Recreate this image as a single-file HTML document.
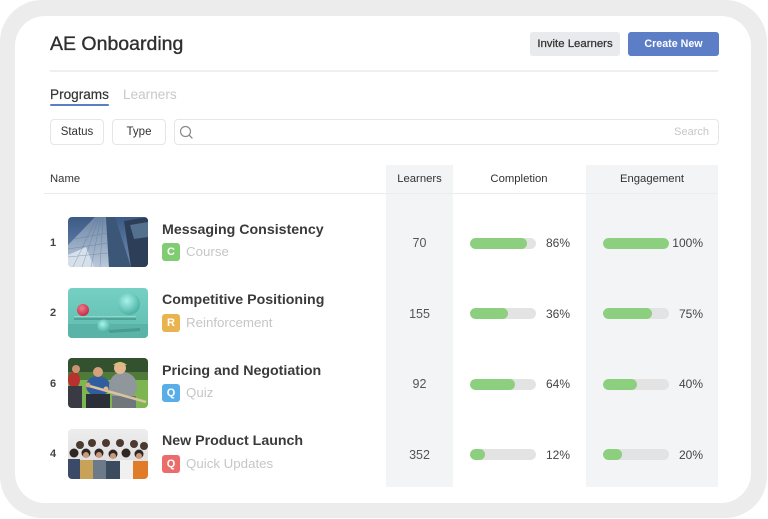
<!DOCTYPE html>
<html><head><meta charset="utf-8">
<style>
*{margin:0;padding:0;box-sizing:border-box}
html,body{width:768px;height:519px;background:#fff;overflow:hidden}
body{font-family:"Liberation Sans",Arial,sans-serif;color:#333;position:relative}
.a{position:absolute}
.t{position:absolute;white-space:nowrap}
.outer{left:0;top:0;width:767px;height:518px;background:#ececec;border-radius:42px}
.inner{left:15px;top:16px;width:736px;height:487px;background:#fff;border-radius:30px}
.btn{position:absolute;border-radius:3px;display:flex;align-items:center;justify-content:center;white-space:nowrap}
.fbtn{position:absolute;border:1px solid #e6e6e6;border-radius:4px;display:flex;align-items:center;justify-content:center;font-size:11.5px;color:#333;height:26px;top:119px}
.shade{position:absolute;background:#f3f4f6;top:165px;height:322px}
.hd{position:absolute;top:171px;height:16px;line-height:16px;font-size:11.3px;color:#333;text-align:center}
.num{position:absolute;left:48px;width:10px;text-align:center;font-size:11px;color:#444;font-weight:bold;height:14px;line-height:14px}
.thumb{position:absolute;left:68px;width:80px;height:50px;border-radius:4px;overflow:hidden}
.title{position:absolute;left:162px;font-size:14.2px;font-weight:bold;color:#3a3a3a;height:18px;line-height:18px;white-space:nowrap}
.badge{position:absolute;left:162px;width:18px;height:18px;border-radius:3px;color:#fff;font-weight:bold;font-size:11px;line-height:18px;text-align:center}
.type{position:absolute;left:186px;font-size:13.3px;color:#c6c6c6;height:18px;line-height:18px;white-space:nowrap}
.cnt{position:absolute;left:386px;width:67px;text-align:center;font-size:12.5px;color:#555;height:16px;line-height:16px}
.bar{position:absolute;width:66px;height:11px;border-radius:6px;background:#e3e3e3;overflow:hidden}
.bar i{display:block;height:11px;border-radius:6px;background:#8ccf7e}
.pct{position:absolute;font-size:12px;color:#444;height:16px;line-height:16px;text-align:right;width:40px}
</style></head><body>
<div class="a outer"></div>
<div class="a inner"></div>

<div class="t" style="left:50px;top:33px;height:23px;line-height:23px;font-size:19.5px;color:#2f2f2f;-webkit-text-stroke:0.35px #2f2f2f">AE Onboarding</div>

<div class="btn" style="left:530px;top:32px;width:90px;height:24px;background:#e9eaed;font-size:11.4px;color:#333;-webkit-text-stroke:0.25px #333">Invite Learners</div>
<div class="btn" style="left:628px;top:32px;width:91px;height:24px;background:#5b7ec6;font-size:10.7px;color:#fff;font-weight:bold">Create New</div>

<div class="a" style="left:50px;top:70px;width:668px;height:2px;background:#efefef"></div>

<div class="t" style="left:50px;top:87px;height:16px;line-height:16px;font-size:13.6px;color:#333;-webkit-text-stroke:0.2px #333">Programs</div>
<div class="a" style="left:50px;top:104px;width:59px;height:2px;background:#5b7ec6;border-radius:1px"></div>
<div class="t" style="left:123px;top:87px;height:16px;line-height:16px;font-size:13.6px;color:#c8c8c8">Learners</div>

<div class="fbtn" style="left:50px;width:54px">Status</div>
<div class="fbtn" style="left:112px;width:54px">Type</div>
<div class="fbtn" style="left:174px;width:545px;justify-content:flex-end;padding-right:9px;color:#c6c6c6;font-size:11px">Search</div>
<svg class="a" style="left:178px;top:124px" width="18" height="18" viewBox="0 0 18 18">
<circle cx="7.5" cy="7.5" r="5" fill="none" stroke="#8a8a8a" stroke-width="1.2"/>
<line x1="11.2" y1="11.2" x2="14" y2="14" stroke="#8a8a8a" stroke-width="1.3" stroke-linecap="round"/>
</svg>

<div class="shade" style="left:386px;width:67px"></div>
<div class="shade" style="left:586px;width:132px"></div>

<div class="hd" style="left:50px;text-align:left">Name</div>
<div class="hd" style="left:386px;width:67px">Learners</div>
<div class="hd" style="left:470px;width:98px">Completion</div>
<div class="hd" style="left:586px;width:132px">Engagement</div>
<div class="a" style="left:44px;top:193px;width:674px;height:1px;background:#ececec"></div>

<!-- Row 1 -->
<div class="num" style="top:236px">1</div>
<div class="thumb" style="top:217px">
<svg width="80" height="50" viewBox="0 0 80 50">
<defs><linearGradient id="s1" x1="0" y1="0" x2="0" y2="1"><stop offset="0" stop-color="#3d5a86"/><stop offset="1" stop-color="#6f8db3"/></linearGradient>
<linearGradient id="b1" x1="0" y1="0" x2="0" y2="1"><stop offset="0" stop-color="#6d86a6"/><stop offset="1" stop-color="#b9c8d9"/></linearGradient></defs>
<rect width="80" height="50" fill="url(#s1)"/>
<polygon points="0,50 0,28 27,0 38,0 41,50" fill="url(#b1)"/>
<polygon points="38,0 47,0 63,50 41,50" fill="#3b5677"/>
<polygon points="56,4 80,0 80,50 63,50" fill="#2c3e58"/>
<polygon points="62,8 80,5 80,20 66,22" fill="#53708f"/>
<polygon points="0,50 0,38 18,30 26,50" fill="#d6e0ea"/>
<g stroke="#5a7193" stroke-width="0.5" opacity="0.6">
<line x1="5" y1="50" x2="29" y2="0"/><line x1="14" y1="50" x2="31" y2="0"/><line x1="23" y1="50" x2="33" y2="0"/><line x1="32" y1="50" x2="35" y2="0"/>
<line x1="0" y1="40" x2="40" y2="36"/><line x1="0" y1="32" x2="40" y2="26"/><line x1="6" y1="22" x2="39" y2="16"/>
</g>
</svg></div>
<div class="title" style="top:221px">Messaging Consistency</div>
<div class="badge" style="top:243px;background:#7fcc73">C</div>
<div class="type" style="top:243px">Course</div>
<div class="cnt" style="top:235px">70</div>
<div class="bar" style="left:470px;top:238px"><i style="width:57px"></i></div>
<div class="pct" style="left:530px;top:235px">86%</div>
<div class="bar" style="left:603px;top:238px"><i style="width:66px"></i></div>
<div class="pct" style="left:663px;top:235px">100%</div>

<!-- Row 2 -->
<div class="num" style="top:306px">2</div>
<div class="thumb" style="top:288px">
<svg width="80" height="50" viewBox="0 0 80 50">
<defs><linearGradient id="s2" x1="0" y1="0" x2="0" y2="1"><stop offset="0" stop-color="#76d0c4"/><stop offset="1" stop-color="#5fbcaf"/></linearGradient>
<radialGradient id="g1" cx="0.4" cy="0.35" r="0.7"><stop offset="0" stop-color="#a8f3ea"/><stop offset="1" stop-color="#45ab9f"/></radialGradient>
<radialGradient id="g2" cx="0.4" cy="0.35" r="0.7"><stop offset="0" stop-color="#f27a8e"/><stop offset="1" stop-color="#c1283f"/></radialGradient></defs>
<rect width="80" height="50" fill="url(#s2)"/>
<rect y="36" width="80" height="14" fill="#5ab3a7"/>
<rect x="6" y="29" width="62" height="3" fill="#4ea397"/>
<rect x="6" y="28" width="62" height="1.5" fill="#8ad9ce"/>
<polygon points="40,42 72,40 72,43 42,45" fill="#3f8a80" opacity="0.6"/>
<circle cx="61" cy="16" r="11" fill="url(#g1)"/>
<circle cx="15" cy="22" r="6" fill="url(#g2)"/>
<circle cx="36" cy="38" r="6.5" fill="url(#g1)"/>
</svg></div>
<div class="title" style="top:291px">Competitive Positioning</div>
<div class="badge" style="top:314px;background:#e9b44e">R</div>
<div class="type" style="top:314px">Reinforcement</div>
<div class="cnt" style="top:306px">155</div>
<div class="bar" style="left:470px;top:308px"><i style="width:38px"></i></div>
<div class="pct" style="left:530px;top:306px">36%</div>
<div class="bar" style="left:603px;top:308px"><i style="width:49px"></i></div>
<div class="pct" style="left:663px;top:306px">75%</div>

<!-- Row 3 -->
<div class="num" style="top:377px">6</div>
<div class="thumb" style="top:358px">
<svg width="80" height="50" viewBox="0 0 80 50">
<rect width="80" height="50" fill="#7db650"/>
<rect width="80" height="20" fill="#34512f"/>
<rect y="14" width="80" height="8" fill="#4f7a3a"/>
<ellipse cx="6" cy="22" rx="6" ry="8" fill="#b8312f"/>
<circle cx="8" cy="11" r="4" fill="#c99272"/>
<rect x="0" y="28" width="14" height="22" fill="#3a3a44"/>
<ellipse cx="30" cy="28" rx="12" ry="10" fill="#2f5d9e"/>
<circle cx="30" cy="14" r="5" fill="#d6a07c"/>
<rect x="18" y="36" width="24" height="14" fill="#2b2f3a"/>
<ellipse cx="55" cy="28" rx="14" ry="14" fill="#8f969c"/>
<circle cx="52" cy="10" r="6" fill="#e2b68e"/>
<path d="M45 7 q7 -6 14 0" fill="#d9c07a"/>
<rect x="44" y="38" width="24" height="12" fill="#6f767c"/>
<line x1="18" y1="27" x2="78" y2="44" stroke="#dcc3a0" stroke-width="2.5"/>
<circle cx="20" cy="27" r="2.5" fill="#d6a07c"/>
<circle cx="38" cy="31" r="2.5" fill="#e2b68e"/>
</svg></div>
<div class="title" style="top:362px">Pricing and Negotiation</div>
<div class="badge" style="top:384px;background:#5aaee8">Q</div>
<div class="type" style="top:384px">Quiz</div>
<div class="cnt" style="top:376px">92</div>
<div class="bar" style="left:470px;top:379px"><i style="width:45px"></i></div>
<div class="pct" style="left:530px;top:376px">64%</div>
<div class="bar" style="left:603px;top:379px"><i style="width:34px"></i></div>
<div class="pct" style="left:663px;top:376px">40%</div>

<!-- Row 4 -->
<div class="num" style="top:447px">4</div>
<div class="thumb" style="top:429px">
<svg width="80" height="50" viewBox="0 0 80 50">
<defs><linearGradient id="s4" x1="0" y1="0" x2="0" y2="1"><stop offset="0" stop-color="#ededed"/><stop offset="1" stop-color="#d9d9d9"/></linearGradient></defs>
<rect width="80" height="50" fill="url(#s4)"/>
<g fill="#4a3a30">
<circle cx="12" cy="16" r="4"/><circle cx="24" cy="14" r="4"/><circle cx="38" cy="14" r="4"/><circle cx="52" cy="14" r="4"/><circle cx="66" cy="15" r="4"/><circle cx="76" cy="17" r="4"/>
</g>
<g fill="#2e2622">
<circle cx="6" cy="24" r="4.5"/><circle cx="18" cy="24" r="4.5"/><circle cx="31" cy="24" r="4.5"/><circle cx="45" cy="25" r="4.5"/><circle cx="58" cy="24" r="4.5"/><circle cx="71" cy="25" r="4.5"/>
</g>
<g fill="#c89a7a"><circle cx="18" cy="26" r="3"/><circle cx="45" cy="27" r="3"/><circle cx="71" cy="27" r="3"/><circle cx="31" cy="26" r="3"/></g>
<rect x="0" y="30" width="12" height="20" fill="#3b4a66"/>
<rect x="12" y="31" width="13" height="19" fill="#c9a25a"/>
<rect x="25" y="31" width="13" height="19" fill="#6c7a8a"/>
<rect x="38" y="32" width="14" height="18" fill="#3d4b5e"/>
<rect x="52" y="31" width="13" height="19" fill="#f0f0f0"/>
<rect x="65" y="32" width="15" height="18" fill="#e07b2a"/>
</svg></div>
<div class="title" style="top:432px">New Product Launch</div>
<div class="badge" style="top:455px;background:#ec6b6b">Q</div>
<div class="type" style="top:455px">Quick Updates</div>
<div class="cnt" style="top:447px">352</div>
<div class="bar" style="left:470px;top:449px"><i style="width:15px"></i></div>
<div class="pct" style="left:530px;top:447px">12%</div>
<div class="bar" style="left:603px;top:449px"><i style="width:19px"></i></div>
<div class="pct" style="left:663px;top:447px">20%</div>

</body></html>
